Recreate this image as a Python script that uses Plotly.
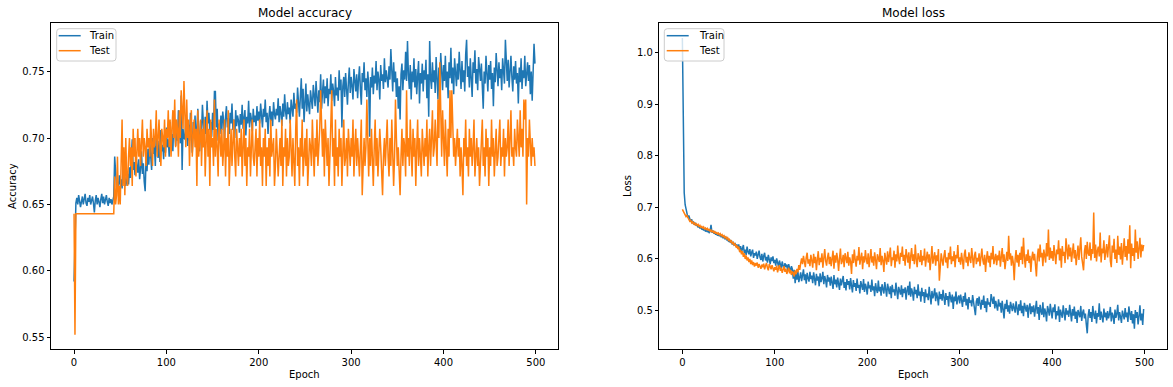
import plotly.graph_objects as go

epochs = list(range(500))

# accuracy values in thousandths
train_acc = [
    592, 622, 651, 655, 650, 657, 653, 648, 652, 656, 650, 654, 658, 651, 649, 655, 652, 657, 650, 653,
    656, 651, 644, 653, 657, 650, 655, 652, 648, 654, 658, 651, 656, 650, 653, 657, 652, 649, 655, 651,
    654, 650, 653, 656, 686, 670, 663, 667, 661, 672, 665, 669, 662, 676, 666, 671, 664, 668, 673, 665,
    678, 670, 685, 699, 676, 682, 672, 688, 679, 674, 684, 669, 677, 690, 673, 681, 667, 660, 686, 675,
    692, 680, 697, 684, 676, 700, 688, 694, 679, 703, 691, 685, 698, 682, 706, 690, 695, 684, 701, 689,
    708, 693, 699, 686, 712, 697, 703, 690, 716, 701, 694, 709, 698, 721, 704, 696, 732, 676, 707, 700,
    699, 715, 702, 694, 710, 698, 719, 705, 689, 712, 700, 717, 695, 708, 722, 701, 690, 713, 704, 725,
    709, 698, 716, 703, 728, 711, 719, 706, 712, 701, 719, 706, 735, 735, 708, 722, 698, 711, 703, 717,
    706, 720, 712, 699, 716, 724, 708, 715, 703, 719, 711, 726, 706, 714, 700, 721, 709, 717, 713, 704,
    718, 710, 725, 707, 715, 721, 702, 716, 711, 728, 708, 719, 714, 705, 722, 712, 717, 709, 724, 713,
    720, 711, 726, 715, 708, 722, 716, 729, 712, 719, 703, 716, 724, 713, 720, 709, 727, 718, 714, 722,
    717, 730, 712, 724, 719, 709, 726, 716, 733, 720, 714, 727, 718, 723, 711, 729, 721, 716, 734, 722,
    726, 719, 738, 724, 716, 731, 745, 722, 737, 712, 728, 741, 720, 733, 725, 718, 736, 727, 722, 740,
    729, 724, 743, 731, 719, 736, 727, 748, 722, 735, 744, 726, 739, 730, 745, 724, 737, 733, 748, 728,
    741, 735, 724, 746, 732, 738, 728, 751, 736, 744, 708, 739, 746, 731, 749, 737, 725, 742, 753, 734,
    746, 739, 729, 752, 741, 735, 748, 730, 744, 754, 737, 725, 749, 742, 757, 736, 745, 731, 750, 740,
    701, 746, 738, 753, 733, 747, 741, 758, 736, 750, 744, 729, 755, 743, 748, 737, 760, 742, 751, 745,
    738, 754, 744, 767, 749, 735, 757, 742, 750, 731, 745, 722, 739, 714, 748, 756, 736, 751, 744, 765,
    743, 773, 748, 737, 755, 729, 750, 742, 760, 738, 752, 733, 747, 758, 726, 749, 741, 756, 735, 751,
    744, 759, 730, 748, 716, 773, 745, 737, 757, 742, 751, 734, 761, 746, 729, 753, 740, 764, 747, 736,
    755, 743, 762, 738, 750, 730, 757, 745, 768, 741, 753, 733, 760, 748, 739, 756, 744, 765, 749, 737,
    758, 742, 751, 735, 763, 774, 746, 754, 738, 760, 745, 731, 757, 749, 766, 741, 752, 736, 761, 747,
    743, 756, 738, 722, 750, 741, 762, 746, 735, 755, 744, 758, 737, 749, 724, 753, 742, 764, 747, 739,
    757, 745, 752, 736, 760, 748, 741, 774, 755, 743, 759, 738, 750, 762, 746, 735, 754, 744, 758, 741,
    749, 726, 753, 742, 760, 737, 751, 745, 762, 739, 748, 757, 743, 755, 733, 750, 728, 747, 771, 756,
]

test_acc = [
    643, 552, 643, 643, 643, 643, 643, 643, 643, 643, 643, 643, 643, 643, 643, 643, 643, 643, 643, 643,
    643, 643, 643, 643, 643, 643, 643, 643, 643, 643, 643, 643, 643, 643, 643, 643, 643, 643, 643, 643,
    643, 643, 643, 643, 671, 650, 657, 686, 650, 664, 650, 679, 714, 664, 693, 657, 700, 671, 664, 686,
    700, 679, 693, 664, 707, 686, 700, 671, 693, 707, 686, 700, 679, 693, 714, 686, 700, 693, 679, 707,
    693, 700, 686, 714, 700, 679, 707, 693, 700, 721, 686, 700, 714, 693, 679, 707, 700, 693, 714, 686,
    707, 700, 721, 693, 714, 686, 707, 721, 700, 729, 693, 714, 707, 686, 721, 700, 736, 714, 707, 743,
    714, 693, 729, 700, 714, 679, 707, 721, 686, 700, 714, 693, 707, 664, 721, 686, 700, 714, 679, 707,
    693, 714, 671, 700, 721, 686, 707, 664, 714, 693, 700, 679, 729, 686, 707, 693, 671, 714, 700, 686,
    707, 679, 693, 714, 671, 700, 686, 721, 664, 693, 707, 679, 700, 714, 686, 671, 707, 693, 679, 700,
    686, 707, 671, 693, 714, 679, 700, 664, 693, 686, 707, 671, 700, 714, 686, 679, 693, 707, 671, 700,
    686, 714, 679, 693, 664, 700, 686, 707, 664, 693, 679, 700, 671, 714, 686, 693, 700, 664, 679, 707,
    693, 671, 686, 700, 679, 714, 664, 693, 686, 707, 671, 700, 679, 686, 714, 693, 671, 700, 686, 664,
    707, 729, 679, 693, 664, 700, 686, 714, 671, 693, 700, 679, 707, 664, 686, 700, 693, 679, 714, 686,
    671, 700, 686, 714, 679, 693, 707, 736, 700, 686, 707, 671, 714, 693, 679, 700, 664, 686, 707, 736,
    686, 700, 664, 714, 679, 693, 671, 707, 686, 700, 664, 693, 714, 679, 686, 700, 671, 707, 693, 679,
    700, 686, 714, 671, 693, 707, 679, 700, 686, 671, 693, 714, 657, 686, 700, 679, 693, 729, 686, 671,
    700, 679, 707, 686, 664, 693, 714, 679, 700, 671, 686, 707, 693, 664, 657, 686, 700, 679, 693, 714,
    686, 671, 700, 679, 714, 693, 664, 686, 729, 700, 679, 693, 671, 657, 686, 707, 679, 700, 693, 671,
    736, 686, 700, 679, 714, 693, 671, 707, 686, 700, 664, 693, 714, 679, 700, 686, 671, 707, 693, 679,
    700, 686, 714, 671, 693, 707, 679, 700, 721, 686, 693, 714, 700, 679, 729, 700, 757, 707, 686, 721,
    700, 679, 714, 693, 671, 707, 686, 736, 700, 736, 714, 686, 700, 679, 693, 707, 686, 700, 671, 693,
    679, 657, 700, 686, 714, 679, 693, 671, 707, 686, 700, 679, 693, 714, 671, 686, 700, 679, 693, 664,
    686, 700, 714, 679, 693, 671, 707, 686, 700, 664, 693, 679, 714, 686, 700, 671, 693, 707, 679, 686,
    700, 714, 679, 693, 686, 707, 671, 700, 686, 693, 714, 679, 700, 721, 686, 693, 679, 707, 693, 686,
    714, 700, 686, 721, 693, 707, 686, 729, 714, 729, 650, 700, 686, 714, 693, 679, 700, 686, 693, 679,
]

# loss values in thousandths
train_loss = [
    1028, 775, 728, 705, 698, 690, 680, 684, 676, 672, 677, 669, 671, 666, 670, 664, 667, 661, 665, 659,
    662, 657, 660, 655, 659, 653, 657, 652, 655, 650, 654, 666, 651, 655, 649, 653, 647, 651, 645, 649,
    644, 648, 642, 646, 640, 645, 638, 643, 636, 640, 633, 638, 631, 636, 628, 633, 626, 631, 624, 628,
    622, 628, 616, 625, 613, 620, 627, 611, 618, 608, 624, 614, 609, 619, 605, 613, 618, 602, 611, 607,
    614, 600, 609, 616, 603, 598, 610, 595, 606, 612, 597, 604, 593, 608, 599, 590, 603, 596, 605, 592,
    598, 587, 601, 593, 585, 597, 590, 582, 595, 588, 579, 592, 584, 589, 577, 590, 583, 575, 586, 580,
    562, 579, 553, 571, 560, 576, 555, 568, 574, 557, 566, 580, 559, 570, 552, 573, 563, 556, 575, 561,
    568, 553, 574, 560, 549, 571, 558, 566, 547, 572, 555, 563, 575, 551, 567, 559, 545, 569, 556, 564,
    548, 566, 555, 542, 569, 551, 560, 545, 564, 553, 540, 562, 549, 558, 567, 544, 555, 539, 561, 550,
    557, 541, 563, 548, 535, 559, 546, 553, 538, 562, 544, 550, 533, 557, 547, 540, 561, 536, 552, 545,
    531, 556, 543, 549, 536, 560, 539, 547, 528, 553, 541, 534, 558, 537, 546, 529, 551, 540, 533, 555,
    538, 527, 552, 543, 532, 547, 524, 550, 536, 541, 529, 554, 535, 522, 546, 538, 531, 549, 526, 542,
    534, 545, 521, 539, 548, 530, 556, 527, 543, 535, 519, 546, 532, 540, 524, 551, 529, 537, 517, 544,
    528, 536, 515, 541, 526, 533, 520, 546, 530, 512, 538, 524, 531, 543, 518, 535, 526, 510, 537, 522,
    532, 519, 540, 525, 511, 534, 521, 528, 508, 536, 523, 516, 531, 503, 527, 518, 537, 512, 524, 529,
    514, 531, 520, 507, 528, 517, 535, 510, 523, 502, 526, 515, 520, 508, 530, 513, 499, 491, 518, 524,
    509, 527, 514, 502, 521, 511, 529, 505, 518, 497, 524, 512, 516, 507, 532, 520, 513, 527, 504, 519,
    511, 500, 522, 508, 515, 496, 519, 506, 485, 513, 503, 521, 498, 510, 494, 517, 505, 499, 514, 502,
    496, 518, 507, 491, 512, 500, 520, 495, 509, 489, 515, 503, 498, 511, 486, 506, 514, 493, 508, 497,
    510, 488, 502, 519, 494, 507, 482, 511, 499, 492, 516, 487, 504, 496, 479, 509, 501, 490, 513, 495,
    485, 506, 497, 512, 483, 499, 491, 508, 478, 502, 494, 486, 510, 497, 481, 505, 492, 500, 488, 511,
    495, 479, 503, 490, 508, 484, 498, 476, 501, 493, 487, 509, 480, 496, 502, 485, 494, 473, 456, 490,
    503, 486, 497, 478, 509, 492, 484, 500, 475, 495, 488, 514, 482, 498, 490, 477, 504, 487, 496, 481,
    499, 485, 493, 507, 479, 496, 489, 474, 502, 486, 494, 511, 481, 497, 488, 476, 500, 491, 483, 505,
    487, 496, 478, 508, 490, 482, 499, 475, 493, 465, 501, 486, 497, 473, 489, 510, 481, 494, 472, 503,
]

test_loss = [
    696, 692, 689, 685, 682, 684, 679, 676, 673, 675, 670, 672, 668, 670, 666, 668, 665, 667, 663, 665,
    661, 663, 660, 662, 658, 660, 657, 659, 655, 658, 654, 656, 652, 655, 651, 653, 649, 652, 648, 650,
    647, 649, 645, 647, 643, 645, 641, 643, 639, 641, 636, 638, 633, 635, 630, 632, 627, 629, 624, 626,
    619, 624, 613, 618, 609, 615, 604, 611, 600, 607, 597, 603, 594, 600, 590, 597, 588, 594, 585, 592,
    587, 593, 583, 590, 586, 581, 589, 584, 591, 580, 587, 592, 583, 578, 590, 585, 580, 588, 583, 576,
    584, 579, 587, 574, 582, 588, 577, 583, 573, 580, 586, 575, 581, 571, 578, 583, 572, 579, 569, 576,
    573, 566, 578, 570, 581, 574, 588, 579, 592, 601, 590, 606, 595, 584, 603, 612, 591, 599, 586, 608,
    597, 583, 610, 592, 604, 578, 599, 615, 588, 602, 594, 611, 583, 605, 619, 596, 587, 603, 612, 590,
    604, 586, 598, 616, 581, 607, 593, 612, 599, 577, 601, 620, 590, 596, 608, 584, 611, 600, 592, 614,
    587, 603, 595, 571, 609, 592, 618, 598, 585, 606, 597, 623, 589, 601, 612, 580, 605, 593, 617, 599,
    590, 611, 584, 602, 619, 593, 605, 587, 613, 598, 580, 609, 601, 594, 621, 588, 606, 597, 575, 612,
    600, 589, 615, 594, 607, 622, 586, 603, 598, 616, 583, 609, 595, 626, 601, 590, 612, 604, 624, 596,
    608, 587, 619, 600, 593, 613, 581, 605, 621, 596, 609, 590, 628, 599, 584, 611, 603, 594, 617, 588,
    606, 597, 620, 585, 602, 614, 593, 609, 578, 604, 625, 591, 600, 613, 587, 607, 596, 619, 558, 592,
    611, 598, 587, 606, 617, 593, 603, 582, 612, 599, 624, 590, 605, 596, 615, 584, 608, 601, 627, 594,
    603, 589, 612, 597, 580, 609, 618, 593, 604, 586, 613, 600, 592, 621, 596, 583, 607, 614, 590, 602,
    595, 611, 586, 604, 620, 598, 589, 608, 575, 601, 615, 593, 606, 584, 612, 599, 625, 590, 604, 610,
    588, 607, 597, 616, 585, 602, 621, 594, 609, 580, 603, 614, 596, 645, 599, 611, 587, 606, 593, 559,
    600, 617, 593, 608, 585, 612, 598, 624, 590, 641, 604, 583, 609, 596, 618, 592, 606, 575, 601, 614,
    597, 610, 589, 566, 604, 620, 595, 628, 603, 612, 586, 618, 607, 593, 631, 605, 657, 598, 622, 601,
    615, 596, 627, 604, 590, 618, 609, 636, 597, 620, 583, 625, 606, 614, 592, 640, 611, 599, 628, 605,
    622, 594, 613, 630, 601, 617, 588, 609, 626, 598, 619, 642, 604, 590, 578, 615, 627, 600, 633, 611,
    606, 632, 597, 619, 610, 690, 602, 628, 595, 616, 624, 605, 651, 593, 620, 611, 636, 598, 614, 629,
    603, 621, 646, 596, 584, 626, 612, 639, 600, 618, 592, 645, 608, 624, 599, 631, 589, 615, 640, 604,
    625, 597, 638, 610, 665, 582, 630, 606, 621, 596, 657, 612, 634, 600, 619, 641, 603, 628, 615, 627,
]

series_names = ["Train", "Test"]

assert len(train_acc) == 500 and len(test_acc) == 500, (len(train_acc), len(test_acc))
assert len(train_loss) == 500 and len(test_loss) == 500, (len(train_loss), len(test_loss))

W, H = 1173, 387
BLUE, ORANGE = "#1f77b4", "#ff7f0e"
FONT = "DejaVu Sans"


def fx(p):
    return p / W


def fy(p):
    return 1 - p / H


def scale(vals):
    return [v / 1000 for v in vals]


fig = go.Figure()
fig.add_trace(go.Scatter(x=epochs, y=scale(train_acc), mode="lines", name=series_names[0],
                         line=dict(color=BLUE, width=1.5), xaxis="x", yaxis="y"))
fig.add_trace(go.Scatter(x=epochs, y=scale(test_acc), mode="lines", name=series_names[1],
                         line=dict(color=ORANGE, width=1.5), xaxis="x", yaxis="y"))
fig.add_trace(go.Scatter(x=epochs, y=scale(train_loss), mode="lines", name=series_names[0],
                         line=dict(color=BLUE, width=1.5), xaxis="x2", yaxis="y2"))
fig.add_trace(go.Scatter(x=epochs, y=scale(test_loss), mode="lines", name=series_names[1],
                         line=dict(color=ORANGE, width=1.5), xaxis="x2", yaxis="y2"))

axis_common = dict(showline=True, mirror=True, linecolor="black", linewidth=1,
                   ticks="outside", ticklen=3.5, tickwidth=1, tickcolor="black",
                   showgrid=False, zeroline=False,
                   tickfont=dict(family=FONT, size=10, color="black"))

ydom = [fy(349), fy(23)]


def rounded_box(x0, y0, x1, y1, r=3):
    # pixel coordinates -> paper path with rounded corners
    def P(x, y):
        return f"{fx(x):.6f},{fy(y):.6f}"
    return (f"M {P(x0 + r, y0)} L {P(x1 - r, y0)} Q {P(x1, y0)} {P(x1, y0 + r)} "
            f"L {P(x1, y1 - r)} Q {P(x1, y1)} {P(x1 - r, y1)} "
            f"L {P(x0 + r, y1)} Q {P(x0, y1)} {P(x0, y1 - r)} "
            f"L {P(x0, y0 + r)} Q {P(x0, y0)} {P(x0 + r, y0)} Z")


shapes = []
annotations = []
for (bx0, bx1, lx0, lx1, tx) in [(56.7, 116.0, 58.7, 80.7, 87.3),
                                  (664.3, 724.0, 666.7, 688.7, 696.7)]:
    shapes.append(dict(type="path", path=rounded_box(bx0, 28.7, bx1, 61.0), xref="paper", yref="paper",
                       fillcolor="rgba(255,255,255,0.8)", line=dict(color="#cccccc", width=1), layer="above"))
    for name, color, ly in [(series_names[0], BLUE, 35.7), (series_names[1], ORANGE, 50.7)]:
        shapes.append(dict(type="line", xref="paper", yref="paper", x0=fx(lx0), x1=fx(lx1),
                           y0=fy(ly), y1=fy(ly), line=dict(color=color, width=1.5), layer="above"))
        annotations.append(dict(text=name, x=fx(tx), y=fy(ly), xref="paper", yref="paper",
                                showarrow=False, xanchor="left", yanchor="middle",
                                font=dict(size=10)))

annotations += [
    dict(text="Model accuracy", x=fx(304.5), y=fy(12.7), xref="paper", yref="paper",
         showarrow=False, xanchor="center", yanchor="middle", font=dict(size=12)),
    dict(text="Model loss", x=fx(913), y=fy(12.7), xref="paper", yref="paper",
         showarrow=False, xanchor="center", yanchor="middle", font=dict(size=12)),
    dict(text="Epoch", x=fx(304.5), y=fy(374.3), xref="paper", yref="paper",
         showarrow=False, xanchor="center", yanchor="middle", font=dict(size=10)),
    dict(text="Epoch", x=fx(913), y=fy(374.3), xref="paper", yref="paper",
         showarrow=False, xanchor="center", yanchor="middle", font=dict(size=10)),
    dict(text="Accuracy", x=fx(12), y=fy(186), xref="paper", yref="paper", textangle=-90,
         showarrow=False, xanchor="center", yanchor="middle", font=dict(size=10)),
    dict(text="Loss", x=fx(627), y=fy(186), xref="paper", yref="paper", textangle=-90,
         showarrow=False, xanchor="center", yanchor="middle", font=dict(size=10)),
]

fig.update_layout(
    width=W, height=H, margin=dict(l=0, r=0, t=0, b=0),
    paper_bgcolor="white", plot_bgcolor="white",
    font=dict(family=FONT, size=10, color="black"),
    showlegend=False,
    xaxis=dict(domain=[fx(51), fx(558)], range=[-24.95, 523.95], anchor="y",
               tickvals=[0, 100, 200, 300, 400, 500], **axis_common),
    yaxis=dict(domain=ydom, range=[0.5412, 0.7866], anchor="x",
               tickvals=[0.55, 0.60, 0.65, 0.70, 0.75], tickformat=".2f", **axis_common),
    xaxis2=dict(domain=[fx(659.3), fx(1166.7)], range=[-24.95, 523.95], anchor="y2",
                tickvals=[0, 100, 200, 300, 400, 500], **axis_common),
    yaxis2=dict(domain=ydom, range=[0.4256, 1.0569], anchor="x2",
                tickvals=[0.5, 0.6, 0.7, 0.8, 0.9, 1.0], tickformat=".1f", **axis_common),
    shapes=shapes,
    annotations=annotations,
)

# remove the default page margin so the figure fills the window exactly; no mode bar
fig.write_html("out.html",
               config={"displayModeBar": False, "staticPlot": True},
               post_script="document.body.style.margin='0';document.body.style.overflow='hidden';")
